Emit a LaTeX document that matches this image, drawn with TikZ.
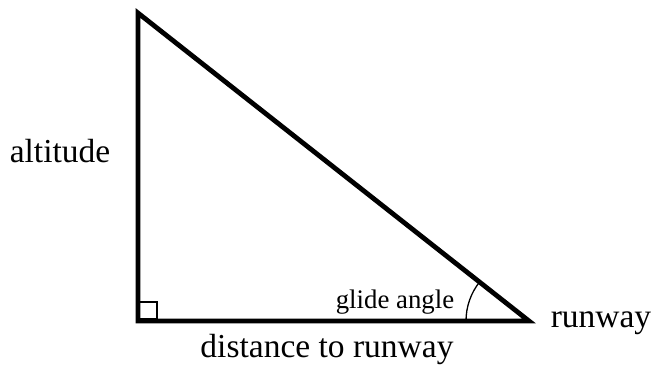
\documentclass[tikz,border=0pt]{standalone}
\usepackage{fontspec}
\setmainfont{Liberation Serif}
\begin{document}
\begin{tikzpicture}[x=1pt,y=-1pt,
  side/.style={line width=4.8pt,line join=miter},
  lbl/.style={font=\fontsize{33.5}{38}\selectfont,anchor=base,inner sep=0pt},
  small/.style={font=\fontsize{26.8}{31}\selectfont,anchor=base,inner sep=0pt}]
\useasboundingbox (0,0) rectangle (658,372);
\coordinate (T) at (138,13);
\coordinate (B) at (138,321);
\coordinate (R) at (529,321);
\draw[line width=1.3pt] (139,302) rectangle (157,319);
\draw[line width=1.3pt] ([shift={(180:63)}]R) arc[start angle=180,end angle=218.4,radius=63];
\draw[side] (T) -- (B) -- (R) -- cycle;
\node[lbl] (alt) at (60,162) {altitude};
\node[lbl] (dist) at (327,357) {distance to runway};
\node[lbl] (rw) at (601,327) {runway};
\node[small] (ga) at (395,308) {glide angle};
\end{tikzpicture}
\end{document}
